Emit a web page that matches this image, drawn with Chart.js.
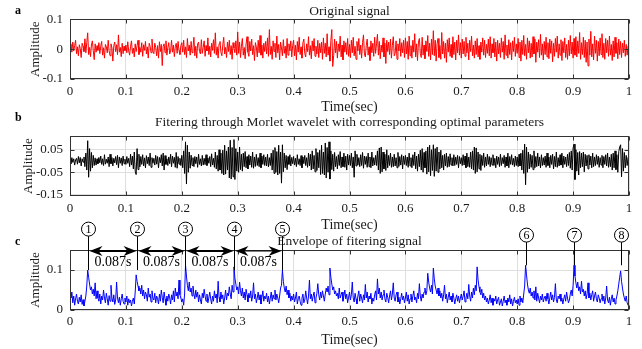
<!DOCTYPE html>
<html>
<head>
<meta charset="utf-8">
<script src="https://cdn.jsdelivr.net/npm/chart.js@4"></script>
<style>
  body { margin: 0; background: #fff; }
  #wrap { position: relative; width: 642px; height: 349px; overflow: hidden; }
  .panel { position: absolute; left: 0; width: 642px; }
</style>
</head>
<body>
<div id="wrap">
  <div class="panel" style="top:0;height:116px"><canvas id="chartA"></canvas></div>
  <div class="panel" style="top:112px;height:122px"><canvas id="chartB"></canvas></div>
  <div class="panel" style="top:218px;height:131px"><canvas id="chartC"></canvas></div>
</div>
<script>
// samples per second for all three traces (values stored in units of 0.001)
const sampleRate = 600;

const signalA = [
  5,18,-10,24,-6,12,30,-15,8,-22,15,2,-28,20,10,-8,35,-12,22,55,-18,6,-25,14,28,-5,-35,18,-10,12,
  -4,22,-15,10,26,-20,5,-30,16,8,-12,30,-6,-22,18,4,-40,12,24,-8,15,-18,48,-10,6,-25,20,-15,10,-5,
  14,-12,25,-6,-20,10,28,-14,4,-26,18,-8,12,30,-18,6,-10,22,-24,15,-4,26,-16,8,-30,20,10,-12,34,-8,
  -15,20,6,-22,12,-30,25,-8,16,-55,10,18,-12,28,-20,5,22,-16,-6,30,-10,14,-25,8,20,-14,26,-4,-18,12,
  22,-10,30,-18,8,-28,36,-6,14,-20,26,-12,4,40,-22,10,-30,18,24,-8,-16,32,-14,6,28,-24,12,-6,38,-18,
  10,-26,20,-4,32,-14,55,-20,8,-30,18,26,-10,-22,14,40,-16,6,-28,24,-8,30,-18,12,-34,22,4,-12,28,-20,
  58,-14,24,-28,10,36,-20,6,-32,18,42,-10,-24,26,-6,34,-18,12,-38,22,8,-26,30,-12,46,-20,14,-30,20,-8,
  26,-16,38,-24,66,-18,10,-34,28,-8,20,-28,44,-12,16,-36,24,4,-22,32,-14,10,-30,36,-20,18,-6,28,-26,12,
  30,-22,14,-36,26,-10,40,-18,8,-30,22,34,-14,-26,18,-8,42,-20,12,-32,28,-6,36,-24,10,-16,30,-28,20,-12,
  24,-34,38,-14,20,-26,52,-20,8,-40,30,66,-58,-22,34,-12,26,-30,18,-8,44,-26,14,-36,28,-10,22,-18,36,-24,
  16,-28,30,-12,40,-22,10,-34,26,-6,36,-18,14,-30,22,48,-16,-26,12,34,-20,8,-38,28,-12,20,-24,40,-14,18,
  50,-20,26,-32,14,-10,38,-26,20,-48,30,-8,24,-18,34,-30,12,42,-22,-14,28,-34,18,-6,36,-24,22,-12,30,-28,
  38,-16,26,-34,44,-22,12,-30,30,-10,52,-26,18,-38,24,36,-14,-28,40,-20,14,-32,28,-8,46,-24,20,-36,34,-18,
  62,-22,30,-40,18,36,-28,12,-34,56,-16,26,-30,20,-44,32,-10,38,-24,16,-28,42,-18,24,-36,30,-12,48,-20,22,
  -30,34,-16,26,-24,40,-12,20,-36,30,-8,44,-22,14,-30,28,-18,36,-26,12,-34,24,-10,38,-20,30,-28,16,-14,34,
  -22,42,-30,18,-12,36,-26,24,-40,30,-16,20,-28,38,-10,26,-34,48,-20,14,-30,32,-18,22,-36,28,-8,40,-24,18,
  -14,36,-28,24,-40,30,-18,46,-22,16,-34,38,-12,28,-30,20,-26,42,-16,34,-44,24,-10,32,-28,50,-20,18,-36,26,
  -18,40,-26,22,-32,34,-14,28,-42,20,-24,36,-10,44,-30,18,-20,32,-38,26,-12,38,-28,16,-34,30,-22,46,-16,24,
  -30,36,-20,42,-26,28,-14,56,-34,22,-18,40,-28,30,-44,24,-56,34,-20,60,-26,18,-36,44,-14,30,-40,26,-22,38,
  -18,52,-28,20,-34,36,-12,30,-24,44,-20,16,-38,28,-26,40,-14,22,-32,34,-18,26,-28,20,-12,30,-24,16,-20,10,
  5
];

const signalB = [
  8,-12,15,-6,10,-18,5,12,-14,20,-8,16,-22,10,-5,18,-25,35,-40,90,-72,55,-45,38,-30,25,-20,14,-18,10,
  -12,16,-8,22,-15,10,-20,28,-14,8,-10,18,-25,30,-12,15,-22,12,-8,20,-16,25,-30,18,-10,14,-20,22,-12,8,
  -15,20,-10,12,-25,30,-18,22,-35,40,-45,-60,55,-38,30,-26,20,-15,28,-22,14,-30,24,-12,18,-20,35,-28,15,-10,
  12,-18,25,-14,20,-30,16,-8,28,-22,35,-40,24,-15,10,-20,18,-12,30,-25,22,-10,16,-28,38,-32,20,-14,12,-20,
  25,-30,45,-55,85,-102,70,-50,40,-32,26,-20,15,-25,20,-12,18,-28,30,-15,10,-22,25,-18,12,-16,28,-20,14,-10,
  20,-25,32,-18,12,-28,40,-35,25,-45,50,-40,35,-55,48,-62,70,-58,45,-40,62,-75,92,-80,60,-70,95,-82,55,-45,
  40,-50,62,-38,30,-45,35,-25,42,-30,20,-35,28,-18,22,-28,40,-32,18,-24,30,-20,15,-25,35,-30,22,-15,28,-20,
  18,-22,30,-26,15,-20,35,-40,48,-55,60,-50,42,-62,70,-55,40,-98,72,-48,35,-30,25,-38,20,-15,28,-22,16,-12,
  20,-18,12,-25,28,-15,10,-20,24,-30,18,-12,25,-20,15,-28,35,-22,30,-40,45,-35,25,-48,55,-42,38,-30,48,-60,
  70,-55,40,-62,80,-75,60,-50,85,-80,45,-38,30,-45,38,-25,20,-35,28,-20,42,-30,18,-25,35,-28,22,-40,30,-18,
  25,-20,35,-30,18,-72,45,-22,30,-18,15,-25,28,-20,38,-32,22,-15,20,-28,35,-25,18,-30,40,-22,15,-18,25,-20,
  45,-40,58,-55,62,-48,40,-35,30,-42,50,-30,25,-20,35,-28,18,-25,30,-22,15,-30,38,-24,20,-18,28,-35,22,-15,
  25,-20,18,-28,35,-22,15,-30,28,-20,40,-35,22,-45,30,-25,48,-40,55,-50,38,-30,45,-58,62,-48,70,-65,50,-42,
  72,-68,55,-45,62,-50,40,-35,48,-30,25,-40,30,-22,35,-28,20,-25,32,-18,15,-22,28,-20,18,-15,25,-30,20,-12,
  15,-20,28,-18,22,-30,35,-25,18,-28,40,-35,45,-40,62,-55,58,-48,40,-35,30,-42,25,-20,35,-28,18,-22,30,-15,
  20,-25,15,-18,28,-20,12,-30,22,-15,18,-25,30,-20,15,-12,25,-28,18,-22,35,-30,20,-15,28,-18,12,-25,22,-20,
  18,-25,30,-22,35,-40,48,-55,75,-105,62,-50,40,-35,30,-28,25,-38,45,-30,20,-25,35,-22,18,-30,28,-20,15,-18,
  22,-28,35,-20,18,-30,25,-15,30,-35,20,-25,40,-28,15,-22,28,-18,35,-30,22,-15,18,-25,30,-20,38,-32,45,-40,
  58,75,-82,50,-45,38,-62,42,-30,35,-25,40,-48,30,-22,25,-35,28,-18,22,-30,35,-25,18,-20,28,-15,22,-28,15,
  -18,25,-30,20,-15,28,-22,35,-28,18,-25,30,-40,35,-30,45,-38,28,-50,42,62,72,-70,55,-45,38,-30,25,-20,15,
  10
];

const envelopeC = [
  42,30,45,18,35,12,28,40,22,15,32,20,38,14,26,10,22,35,60,100,82,65,50,58,40,52,35,68,28,48,
  30,22,40,15,35,25,50,30,18,42,28,12,36,22,62,30,20,38,14,25,70,30,18,32,12,28,40,22,15,30,
  20,35,12,28,18,25,10,22,30,15,45,88,72,60,48,55,40,62,35,50,28,45,38,22,55,32,40,20,48,30,
  25,42,18,35,28,15,40,22,50,32,18,45,28,12,35,22,40,30,15,38,25,48,20,55,35,45,28,75,38,30,
  20,28,12,40,112,85,62,48,70,45,55,35,60,40,28,50,32,45,20,38,25,15,42,30,52,35,22,40,18,30,
  45,28,15,35,22,48,30,40,18,72,32,20,45,28,38,15,30,50,25,42,35,58,40,28,62,45,108,80,65,50,
  58,40,70,48,35,55,30,45,25,52,38,20,42,30,48,22,35,68,28,40,18,30,45,25,38,15,32,48,22,35,
  28,42,20,35,15,30,45,22,38,28,50,25,40,30,18,35,55,62,100,72,55,45,60,38,50,30,42,22,35,25,
  40,20,30,45,15,28,35,22,12,30,40,18,25,48,30,15,35,75,28,40,22,35,45,18,30,42,66,38,25,45,
  30,48,35,22,40,55,45,60,38,105,82,65,50,58,40,48,35,42,28,55,30,38,45,22,35,50,28,40,18,32,
  45,25,38,70,30,20,42,28,15,35,48,22,40,30,18,38,25,64,30,45,20,35,28,42,15,30,22,38,48,25,
  78,40,55,30,45,25,38,50,28,20,42,32,18,35,48,25,40,68,30,22,38,45,20,32,15,28,42,25,35,18,
  30,45,22,38,15,28,40,20,35,48,25,32,18,42,28,66,35,22,40,30,45,55,38,48,92,70,55,45,62,40,
  105,78,60,50,40,55,35,48,30,42,22,38,62,28,40,18,32,45,25,35,20,42,30,15,28,38,22,35,18,30,
  40,25,35,48,20,30,42,28,64,35,22,45,30,55,38,62,48,108,75,58,45,38,52,30,42,25,35,20,30,15,
  25,38,18,30,12,28,22,35,15,25,32,12,20,28,10,22,35,18,25,12,30,20,38,15,28,10,22,32,18,25,
  15,28,12,35,20,30,18,40,60,112,88,65,50,42,55,35,45,30,48,25,58,22,42,30,18,35,25,40,20,30,
  35,22,42,28,15,30,45,25,38,20,32,66,25,18,35,28,40,22,30,15,28,38,22,45,30,18,25,40,50,35,
  62,112,85,68,55,70,48,58,40,72,45,52,35,48,28,40,68,30,42,25,38,48,22,35,45,28,20,38,30,18,
  28,40,22,35,15,30,60,25,18,32,12,28,38,20,30,15,25,35,48,65,82,98,72,55,40,30,22,35,18,12,
  15
];

const xTicks = [0, 0.1, 0.2, 0.3, 0.4, 0.5, 0.6, 0.7, 0.8, 0.9, 1];
const yTicksA = [-0.1, 0, 0.1];
const yTicksB = [-0.15, -0.1, -0.05, 0, 0.05];
const yTicksC = [0, 0.1];

// fault impacts marked on the envelope
const peakTimes = [0.032, 0.119, 0.206, 0.293, 0.380, 0.815, 0.902, 0.985];
const peakLabels = ['1', '2', '3', '4', '5', '6', '7', '8'];
const peakLineEnd = [0.1, 0.1, 0.1, 0.1, 0.1, 0.112, 0.112, 0.112];
const intervalLabel = '0.087s';

const serif = '"Liberation Serif", "Times New Roman", serif';
const ink = '#1a1a1a';

// box around the plot, inward tick marks and the panel letter
const framePlugin = {
  id: 'frame',
  afterDraw(chart, args, opts) {
    const { ctx, chartArea: a, scales } = chart;
    const L = Math.round(a.left) + 0.5, R = Math.round(a.right) - 0.5;
    const T = Math.round(a.top) + 0.5, B = Math.round(a.bottom) - 0.5;
    ctx.save();
    ctx.strokeStyle = '#333';
    ctx.lineWidth = 1;
    ctx.strokeRect(L, T, R - L, B - T);
    ctx.beginPath();
    scales.x.ticks.forEach(t => {
      const px = Math.round(scales.x.getPixelForValue(t.value)) + 0.5;
      ctx.moveTo(px, B); ctx.lineTo(px, B - 4);
      ctx.moveTo(px, T); ctx.lineTo(px, T + 4);
    });
    scales.y.ticks.forEach(t => {
      const py = Math.round(scales.y.getPixelForValue(t.value)) + 0.5;
      ctx.moveTo(L, py); ctx.lineTo(L + 4, py);
      ctx.moveTo(R, py); ctx.lineTo(R - 4, py);
    });
    ctx.stroke();
    ctx.fillStyle = '#000';
    ctx.font = 'bold 12px ' + serif;
    ctx.textAlign = 'left';
    ctx.textBaseline = 'middle';
    ctx.fillText(opts.letter, 15, opts.letterY);
    ctx.restore();
  }
};

function arrowHead(ctx, x, y, dir) {
  // dir -1 points left, +1 points right; tip sits at x
  ctx.beginPath();
  ctx.moveTo(x, y);
  ctx.lineTo(x - dir * 13, y - 5);
  ctx.lineTo(x - dir * 9, y);
  ctx.lineTo(x - dir * 13, y + 5);
  ctx.closePath();
  ctx.fill();
}

// numbered impact markers and the period arrows on the envelope panel
const markerPlugin = {
  id: 'markers',
  afterDraw(chart) {
    const { ctx, chartArea: area, scales: { x, y } } = chart;
    ctx.save();
    ctx.strokeStyle = '#000';
    ctx.fillStyle = '#000';
    const xs = peakTimes.map(t => Math.round(x.getPixelForValue(t)) + 0.5);
    xs.forEach((px, i) => {
      const cy = area.top - (i < 5 ? 21 : 15);
      ctx.lineWidth = 1;
      ctx.beginPath();
      ctx.arc(px, cy, 7, 0, Math.PI * 2);
      ctx.stroke();
      ctx.font = '12px ' + serif;
      ctx.textAlign = 'center';
      ctx.textBaseline = 'middle';
      ctx.fillText(peakLabels[i], px, cy + 1);
      ctx.beginPath();
      ctx.moveTo(px, cy + 7);
      ctx.lineTo(px, y.getPixelForValue(peakLineEnd[i]));
      ctx.stroke();
    });
    const ay = Math.round(area.top) + 1;
    for (let i = 0; i < 4; i++) {
      const x1 = xs[i] + 1, x2 = xs[i + 1] - 1;
      ctx.lineWidth = i < 3 ? 2 : 1;
      ctx.beginPath();
      ctx.moveTo(x1 + 8, ay);
      ctx.lineTo(x2 - 8, ay);
      ctx.stroke();
      arrowHead(ctx, x1, ay, -1);
      arrowHead(ctx, x2, ay, 1);
      ctx.font = '14px ' + serif;
      ctx.textAlign = 'center';
      ctx.textBaseline = 'middle';
      ctx.fillText(intervalLabel, (x1 + x2) / 2, area.top + 12);
    }
    ctx.restore();
  }
};

function buildPanel(id, values, color, yMin, yMax, yTicks, titleText, pad, letter, letterY, extra) {
  const points = values.map((v, i) => ({ x: i / sampleRate, y: v / 1000 }));
  return new Chart(document.getElementById(id), {
    type: 'line',
    data: {
      datasets: [{
        data: points,
        borderColor: color,
        borderWidth: 1,
        pointRadius: 0,
        tension: 0
      }]
    },
    options: {
      animation: false,
      responsive: true,
      maintainAspectRatio: false,
      devicePixelRatio: 1,
      layout: { padding: { left: 0, right: 13, top: 0, bottom: 0 } },
      plugins: {
        legend: { display: false },
        tooltip: { enabled: false },
        title: {
          display: true,
          fullSize: false,
          text: titleText,
          color: ink,
          font: { family: serif, size: 13.5, weight: 'normal', lineHeight: 1.2 },
          padding: { top: pad.titleTop, bottom: pad.titleBottom }
        },
        frame: { letter: letter, letterY: letterY }
      },
      scales: {
        x: {
          type: 'linear',
          min: 0,
          max: 1,
          afterBuildTicks: axis => { axis.ticks = xTicks.map(v => ({ value: v })); },
          afterFit: axis => { axis.height = pad.xHeight; },
          ticks: {
            callback: v => String(v),
            color: ink,
            font: { family: serif, size: 13, lineHeight: 1 },
            padding: pad.tickPad,
            maxRotation: 0,
            autoSkip: false
          },
          grid: { color: '#dedede', drawTicks: false },
          border: { display: false },
          title: {
            display: true,
            text: 'Time(sec)',
            color: ink,
            font: { family: serif, size: 14, lineHeight: 1.2 },
            padding: { top: 0, bottom: 0 }
          }
        },
        y: {
          min: yMin,
          max: yMax,
          afterBuildTicks: axis => { axis.ticks = yTicks.map(v => ({ value: v })); },
          afterFit: axis => { axis.width = 70; },
          ticks: {
            callback: v => String(v),
            color: ink,
            font: { family: serif, size: 13, lineHeight: 1 },
            padding: 7
          },
          grid: { color: '#dedede', drawTicks: false },
          border: { display: false },
          title: {
            display: true,
            text: 'Amplitude',
            color: ink,
            font: { family: serif, size: 13, lineHeight: 1.2 },
            padding: { top: pad.yTitle, bottom: 0 }
          }
        }
      }
    },
    plugins: [framePlugin].concat(extra || [])
  });
}

buildPanel('chartA', signalA, '#ff0000', -0.1, 0.1, yTicksA, 'Original signal',
  { titleTop: 3.2, titleBottom: 0, tickPad: 6, xHeight: 37, yTitle: 28 }, 'a', 11);

buildPanel('chartB', signalB, '#000000', -0.155, 0.11, yTicksB,
  'Fitering through Morlet wavelet with corresponding optimal parameters',
  { titleTop: 2.5, titleBottom: 5.5, tickPad: 6, xHeight: 38, yTitle: 21 }, 'b', 6);

buildPanel('chartC', envelopeC, '#0000ff', 0, 0.15, yTicksC, 'Envelope of fitering signal',
  { titleTop: 15.4, titleBottom: 0.5, tickPad: 5, xHeight: 39, yTitle: 28 }, 'c', 24, [markerPlugin]);
</script>
</body>
</html>
